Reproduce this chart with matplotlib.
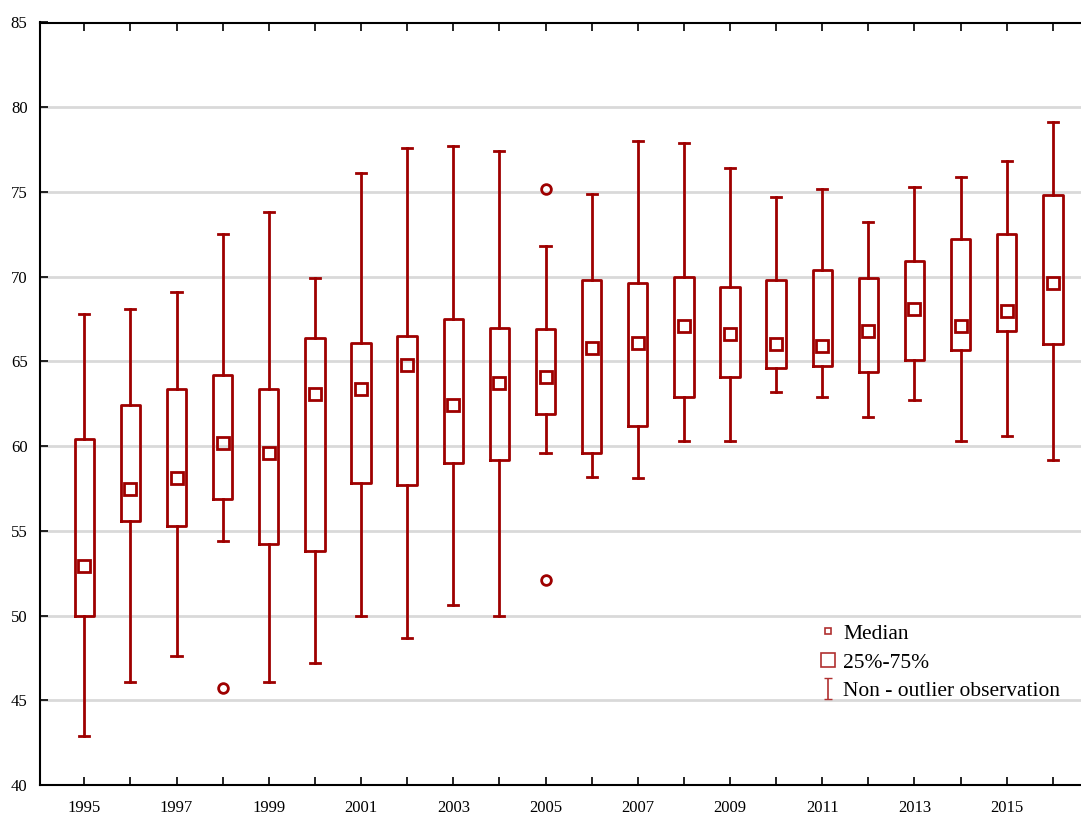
import numpy as np
import matplotlib
matplotlib.use('Agg')
import matplotlib.pyplot as plt

plt.rcParams['font.family'] = ['Liberation Serif', 'DejaVu Serif']

red = '#9e0000'

years = list(range(1995, 2017))
whis_lo = [42.9, 46.1, 47.6, 54.4, 46.1, 47.2, 50.0, 48.7, 50.6, 50.0, 59.6,
           58.2, 58.1, 60.3, 60.3, 63.2, 62.9, 61.7, 62.7, 60.3, 60.6, 59.2]
q1 = [50.0, 55.6, 55.3, 56.9, 54.2, 53.8, 57.8, 57.7, 59.0, 59.2, 61.9,
      59.6, 61.2, 62.9, 64.1, 64.6, 64.7, 64.4, 65.1, 65.7, 66.8, 66.0]
med = [52.9, 57.45, 58.1, 60.2, 59.6, 63.1, 63.4, 64.8, 62.4, 63.7, 64.1,
       65.8, 66.1, 67.1, 66.6, 66.0, 65.9, 66.8, 68.1, 67.1, 68.0, 69.6]
q3 = [60.4, 62.4, 63.4, 64.2, 63.4, 66.4, 66.1, 66.5, 67.5, 67.0, 66.9,
      69.8, 69.6, 70.0, 69.4, 69.8, 70.4, 69.9, 70.9, 72.2, 72.5, 74.8]
whis_hi = [67.8, 68.1, 69.1, 72.5, 73.8, 69.9, 76.1, 77.6, 77.7, 77.4, 71.8,
           74.9, 78.0, 77.9, 76.4, 74.7, 75.2, 73.2, 75.3, 75.9, 76.8, 79.1]
outliers = {1998: [45.7], 2005: [75.2, 52.1]}

stats = []
for i, yr in enumerate(years):
    stats.append(dict(med=med[i], q1=q1[i], q3=q3[i],
                      whislo=whis_lo[i], whishi=whis_hi[i],
                      fliers=outliers.get(yr, [])))

fig = plt.figure(figsize=(10.81, 8.15), dpi=100)
ax = fig.add_axes([40/1081, 30/815, 1041/1081, 762.5/815])

ax.set_axisbelow(True)
ax.yaxis.grid(True, color='#d9d9d9', linewidth=2)

lw = 2.0
ax.bxp(stats, positions=years, widths=0.42, showfliers=True,
       boxprops=dict(color=red, linewidth=lw),
       whiskerprops=dict(color=red, linewidth=lw),
       capprops=dict(color=red, linewidth=lw),
       medianprops=dict(linewidth=0),
       flierprops=dict(marker='o', markersize=7, markerfacecolor='none',
                       markeredgecolor=red, markeredgewidth=2),
       capwidths=0.22, manage_ticks=False)

# median squares
ax.plot(years, med, linestyle='none', marker='s', markersize=8,
        markerfacecolor='none', markeredgecolor=red, markeredgewidth=2)

ax.set_xlim(1994.04, 2016.61)
ax.set_ylim(40, 85)
ax.set_yticks(range(40, 86, 5))
ax.set_xticks(years)
ax.set_xticklabels([str(y) if y % 2 == 1 else '' for y in years])
ax.tick_params(axis='both', direction='in', length=6, width=1.2,
               labelsize=12, top=True)
ax.tick_params(axis='x', pad=11)
ax.tick_params(axis='y', pad=9)
ax.spines['right'].set_visible(False)
for s in ['left', 'bottom', 'top']:
    ax.spines[s].set_linewidth(1.5)

# legend
h1, = ax.plot([], [], linestyle='none', marker='s', markersize=5,
              markerfacecolor='none', markeredgecolor='#b03030', markeredgewidth=1.2)
h2, = ax.plot([], [], linestyle='none', marker='s', markersize=10,
              markerfacecolor='none', markeredgecolor='#b03030', markeredgewidth=1.2)
h3 = ax.errorbar([np.nan], [np.nan], yerr=[1], fmt='none', ecolor='#b03030',
                 elinewidth=1.2, capsize=3)
ax.legend([h1, h2, h3], ['Median', '25%-75%', 'Non - outlier observation'],
          loc='upper left', bbox_to_anchor=(809/1081, (815-613)/815),
          bbox_transform=fig.transFigure, frameon=False, fontsize=15.5,
          handlelength=0.8, handletextpad=0.3, labelspacing=0.4,
          borderpad=0)

fig.savefig('out.png', dpi=100)
